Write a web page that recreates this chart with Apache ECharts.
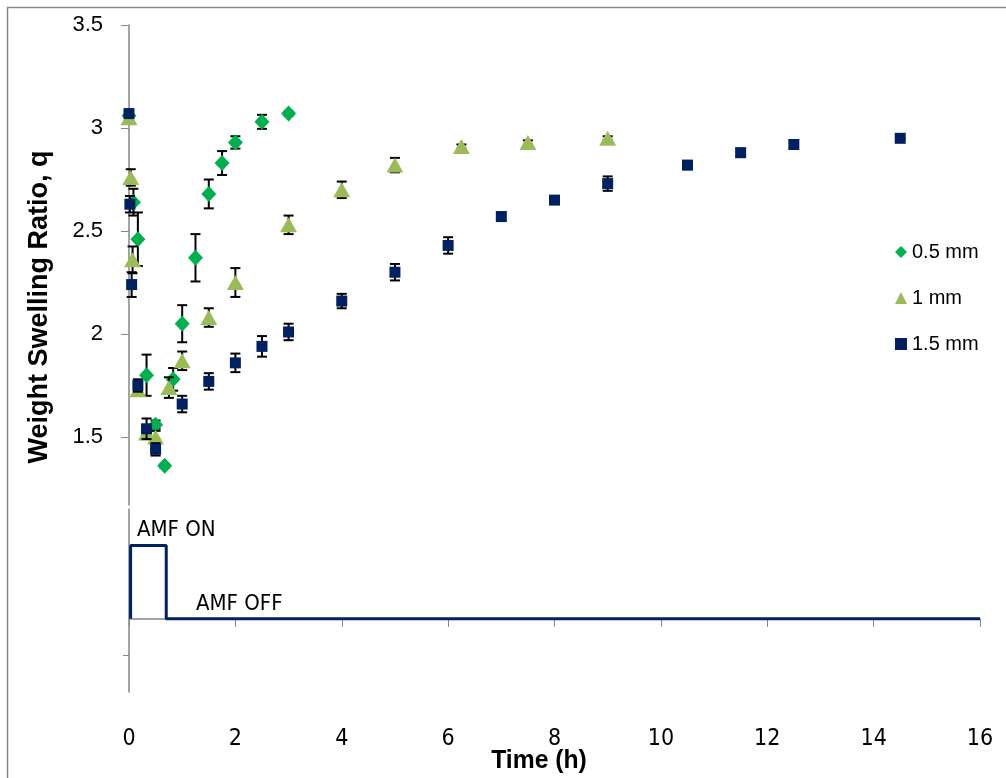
<!DOCTYPE html>
<html>
<head>
<meta charset="utf-8">
<script src="https://cdn.jsdelivr.net/npm/echarts@6/dist/echarts.min.js"></script>
<style>
  html, body { margin: 0; padding: 0; background: #fff; }
  #chart { width: 1006px; height: 778px; }
</style>
</head>
<body>
<div id="chart"></div>
<script>
// 0.5 mm
var time05 = [0, 0.083, 0.167, 0.33, 0.5, 0.67, 0.83, 1, 1.25, 1.5, 1.75, 2, 2.5, 3];
var q05 = [3.06, 2.64, 2.46, 1.80, 1.56, 1.36, 1.78, 2.05, 2.37, 2.68, 2.83, 2.93, 3.03, 3.07];
var err05 = [0.01, 0.065, 0.13, 0.1, 0.02, 0.01, 0.055, 0.09, 0.115, 0.07, 0.058, 0.03, 0.034, 0.01];
// 1 mm
var time1 = [0, 0.033, 0.067, 0.167, 0.33, 0.5, 0.75, 1, 1.5, 2, 3, 4, 5, 6.25, 7.5, 9];
var q1 = [3.05, 2.76, 2.36, 1.73, 1.52, 1.50, 1.74, 1.87, 2.08, 2.25, 2.53, 2.70, 2.82, 2.91, 2.93, 2.95];
var err1 = [0.01, 0.04, 0.065, 0.03, 0.03, 0.03, 0.05, 0.045, 0.045, 0.07, 0.045, 0.04, 0.035, 0.01, 0.01, 0.01];
// 1.5 mm
var time15 = [0, 0.017, 0.05, 0.167, 0.33, 0.5, 1, 1.5, 2, 2.5, 3, 4, 5, 6, 7, 8, 9, 10.5, 11.5, 12.5, 14.5];
var q15 = [3.07, 2.63, 2.24, 1.75, 1.54, 1.44, 1.66, 1.77, 1.86, 1.94, 2.01, 2.16, 2.30, 2.43, 2.57, 2.65, 2.73, 2.82, 2.88, 2.92, 2.95];
var err15 = [0.01, 0.04, 0.06, 0.03, 0.05, 0.03, 0.04, 0.04, 0.045, 0.05, 0.04, 0.035, 0.04, 0.04, 0.02, 0.01, 0.035, 0.02, 0.02, 0.02, 0];
// AMF on/off step (1 = on, 0 = off)
var stepTime = [0.03, 0.03, 0.7, 0.7, 16];
var stepLevel = [0, 1, 1, 0, 0];
// tick labels
var yTicks = [1.5, 2, 2.5, 3, 3.5];
var xTicks = [0, 2, 4, 6, 8, 10, 12, 14, 16];

var names = ['0.5 mm', '1 mm', '1.5 mm'];
var colors = ['#00B050', '#9BBB59', '#002060'];
var axisGrey = '#868686';
var narrow = '"DejaVu Sans Condensed", "Liberation Sans", sans-serif';

function pairs(t, v) {
    var out = [];
    for (var i = 0; i < t.length; i++) out.push([t[i], v[i]]);
    return out;
}
function errPairs(t, v, e) {
    var out = [];
    for (var i = 0; i < t.length; i++) out.push([t[i], v[i] - e[i], v[i] + e[i]]);
    return out;
}

// 误差棒
function renderErr(params, api) {
    var lo = api.coord([api.value(0), api.value(1)]);
    var hi = api.coord([api.value(0), api.value(2)]);
    var cap = 5;
    var st = { stroke: '#000', lineWidth: 2 };
    return {
        type: 'group',
        children: [
            { type: 'line', shape: { x1: lo[0], y1: lo[1], x2: hi[0], y2: hi[1] }, style: st },
            { type: 'line', shape: { x1: lo[0] - cap, y1: lo[1], x2: lo[0] + cap, y2: lo[1] }, style: st },
            { type: 'line', shape: { x1: hi[0] - cap, y1: hi[1], x2: hi[0] + cap, y2: hi[1] }, style: st }
        ]
    };
}

var myChart = echarts.init(document.getElementById('chart'));

var sets = [
    { t: time05, q: q05, e: err05, symbol: 'diamond', size: [15, 16] },
    { t: time1, q: q1, e: err1, symbol: 'triangle', size: [17, 15] },
    { t: time15, q: q15, e: err15, symbol: 'rect', size: 11 }
];

var series = [];
sets.forEach(function (s, i) {
    series.push({
        type: 'custom',
        xAxisIndex: 0, yAxisIndex: 0,
        renderItem: renderErr,
        encode: { x: 0, y: [1, 2] },
        data: errPairs(s.t, s.q, s.e),
        z: 2 + i * 2,
        silent: true
    });
    series.push({
        name: names[i],
        type: 'scatter',
        xAxisIndex: 0, yAxisIndex: 0,
        symbol: s.symbol,
        symbolSize: s.size,
        itemStyle: { color: colors[i], opacity: 1 },
        data: pairs(s.t, s.q),
        z: 3 + i * 2
    });
});
series.push({
    type: 'line',
    xAxisIndex: 1, yAxisIndex: 1,
    showSymbol: false,
    lineStyle: { color: '#002060', width: 3 },
    data: pairs(stepTime, stepLevel),
    silent: true
});

var option = {
    backgroundColor: '#fff',
    animation: false,
    grid: [
        { left: 129, right: 26, top: 25, height: 480 },
        { left: 129, right: 26, top: 509, height: 183 }
    ],
    legend: {
        data: names,
        orient: 'vertical',
        left: 890,
        top: 237,
        itemWidth: 12,
        itemHeight: 12,
        itemGap: 26,
        textStyle: { fontFamily: 'Liberation Sans', fontSize: 20, color: '#000', lineHeight: 20 }
    },
    xAxis: [{
        gridIndex: 0, type: 'value', min: 0, max: 16, show: false
    }, {
        gridIndex: 1, type: 'value', min: 0, max: 16, interval: 2,
        axisLine: { lineStyle: { color: axisGrey, width: 1.5 } },
        axisTick: { show: true, length: 8, lineStyle: { color: axisGrey } },
        splitLine: { show: false },
        axisLabel: {
            margin: 36,
            fontFamily: narrow, fontSize: 23, color: '#000',
            customValues: xTicks
        }
    }],
    yAxis: [{
        gridIndex: 0, type: 'value', min: 1.17, max: 3.5,
        axisLine: { show: true, lineStyle: { color: axisGrey, width: 1.5 } },
        axisTick: { show: true, length: 8, lineStyle: { color: axisGrey }, customValues: yTicks },
        splitLine: { show: false },
        axisLabel: {
            margin: 26,
            fontFamily: 'Liberation Sans', fontSize: 22, color: '#000',
            customValues: yTicks
        }
    }, {
        gridIndex: 1, type: 'value', min: -1, max: 1.5,
        axisLine: { show: true, lineStyle: { color: axisGrey, width: 1.5 } },
        axisTick: { show: true, length: 6, lineStyle: { color: axisGrey }, customValues: [-0.5] },
        axisLabel: { show: false },
        splitLine: { show: false }
    }],
    graphic: [
        {
            type: 'rect', left: 5, top: 5, silent: true, z: -1,
            shape: { width: 1010, height: 800 },
            style: { fill: 'none', stroke: axisGrey, lineWidth: 1.5 }
        },
        {
            type: 'text', x: 40, y: 307, rotation: Math.PI / 2,
            style: {
                text: 'Weight Swelling Ratio, q', fill: '#000',
                font: 'bold 27px "Liberation Sans"', align: 'center', verticalAlign: 'middle'
            }
        },
        {
            type: 'text', x: 539, y: 761, scaleX: 0.95,
            style: {
                text: 'Time (h)', fill: '#000',
                font: 'bold 26px "Liberation Sans"', align: 'center', verticalAlign: 'middle'
            }
        },
        {
            type: 'text', x: 137, y: 530,
            style: {
                text: 'AMF ON', fill: '#000',
                font: '22px ' + narrow, align: 'left', verticalAlign: 'middle'
            }
        },
        {
            type: 'text', x: 196, y: 604,
            style: {
                text: 'AMF OFF', fill: '#000',
                font: '22px ' + narrow, align: 'left', verticalAlign: 'middle'
            }
        }
    ],
    series: series
};

myChart.setOption(option);
</script>
</body>
</html>
